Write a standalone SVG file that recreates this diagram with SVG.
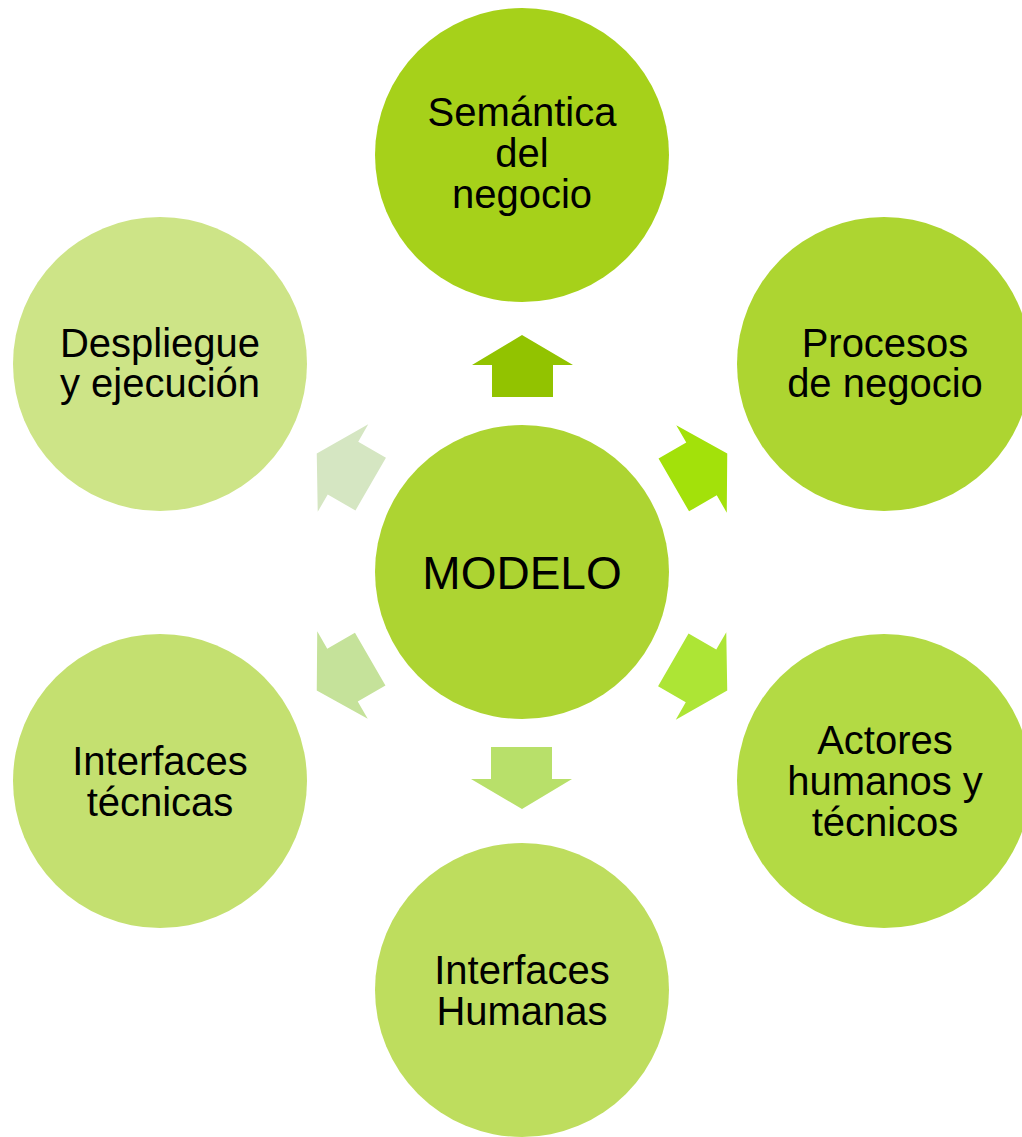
<svg xmlns="http://www.w3.org/2000/svg" width="1022" height="1137" viewBox="0 0 1022 1137">
<style>
text{font-family:"Liberation Sans",Arial,sans-serif;fill:#000;text-anchor:middle}
.t{font-size:40px}
.c{font-size:46px}
</style>
<defs>
<polygon id="arr" points="522,335 573,365 553,365 553,397 492,397 492,365 472,365"/>
</defs>
<rect width="1022" height="1137" fill="#fff"/>
<g id="connectors">
<use href="#arr" fill="#92C300"/>
<use href="#arr" fill="#A3E10A" transform="rotate(60 522 572)"/>
<use href="#arr" fill="#ADE535" transform="rotate(120 522 572)"/>
<use href="#arr" fill="#B8E06A" transform="rotate(180 522 572)"/>
<use href="#arr" fill="#C5E29A" transform="rotate(240 522 572)"/>
<use href="#arr" fill="#D5E6C2" transform="rotate(300 522 572)"/>
</g>
<g id="modelo"><circle cx="522" cy="572" r="147" fill="#ADD432"/><text class="c" x="522" y="589">MODELO</text></g>
<g id="semantica"><circle cx="522" cy="155" r="147" fill="#A6D11A"/><text class="t" x="522" y="126">Semántica</text><text class="t" x="522" y="167">del</text><text class="t" x="522" y="208">negocio</text></g>
<g id="procesos"><circle cx="884" cy="364" r="147" fill="#ADD531"/><text class="t" x="885" y="357">Procesos</text><text class="t" x="885" y="397">de negocio</text></g>
<g id="actores"><circle cx="884" cy="781" r="147" fill="#B3DA44"/><text class="t" x="885" y="754">Actores</text><text class="t" x="885" y="795">humanos y</text><text class="t" x="885" y="836">técnicos</text></g>
<g id="interfaces-humanas"><circle cx="522" cy="990" r="147" fill="#BEDD5E"/><text class="t" x="522" y="984">Interfaces</text><text class="t" x="522" y="1025">Humanas</text></g>
<g id="interfaces-tecnicas"><circle cx="160" cy="781" r="147" fill="#C4E070"/><text class="t" x="160" y="775">Interfaces</text><text class="t" x="160" y="816">técnicas</text></g>
<g id="despliegue"><circle cx="160" cy="364" r="147" fill="#CDE487"/><text class="t" x="160" y="357">Despliegue</text><text class="t" x="160" y="397">y ejecución</text></g>
</svg>
